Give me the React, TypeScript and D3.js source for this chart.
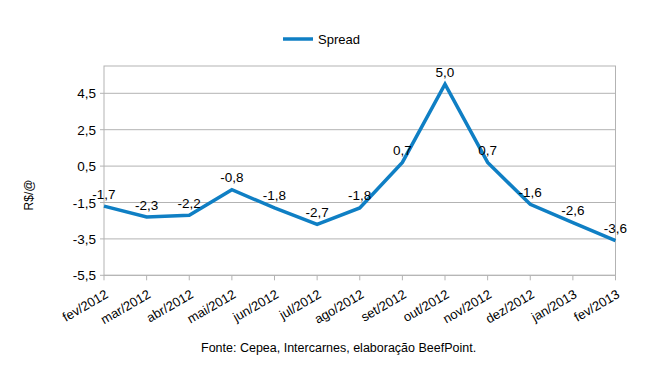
import React from "react";
import * as d3 from "d3";

const categories = ["fev/2012","mar/2012","abr/2012","mai/2012","jun/2012","jul/2012","ago/2012","set/2012","out/2012","nov/2012","dez/2012","jan/2013","fev/2013"];
const spread = [-1.7,-2.3,-2.2,-0.8,-1.8,-2.7,-1.8,0.7,5.0,0.7,-1.6,-2.6,-3.6];
const yTicks = [-5.5,-3.5,-1.5,0.5,2.5,4.5];
const seriesName = "Spread";
const yTitle = "R$/@";
const footer = "Fonte: Cepea, Intercarnes, elaboração BeefPoint.";

const W = 646, H = 377;
const left = 104, right = 615.5, top = 66, bottom = 275.3;
const font = "'Liberation Sans', Arial, sans-serif";
const blue = "#0f7fc4";
const grid = "#b3b3b3";
const fmt = (v: number) => v.toFixed(1).replace(".", ",");

export default function App() {
  const x = d3.scalePoint<string>().domain(categories).range([left, right]);
  const y = d3.scaleLinear().domain([-5.5, 6.0]).range([bottom, top]);
  const line = d3.line<number>().x((_, i) => x(categories[i])!).y(d => y(d));
  return (
    <svg width={W} height={H} style={{ position: "absolute", left: 0, top: 0, background: "#fff" }} fontFamily={font}>
      <rect width={W} height={H} fill="#fff" />
      <line x1={283} x2={313} y1={39} y2={39} stroke={blue} strokeWidth={3.5} />
      <text x={318} y={44} fontSize={13} fill="#000">{seriesName}</text>
      {yTicks.map(t => (
        <g key={t}>
          <line x1={left - 4} x2={right} y1={y(t)} y2={y(t)} stroke={grid} strokeWidth={1} />
          <text x={96} y={y(t) + 5} fontSize={13.5} textAnchor="end" fill="#000">{fmt(t)}</text>
        </g>
      ))}
      <rect x={left} y={top} width={right - left} height={bottom - top} fill="none" stroke={grid} strokeWidth={1} />
      {categories.map(c => (
        <g key={c}>
          <line x1={x(c)!} x2={x(c)!} y1={bottom} y2={bottom + 5} stroke={grid} strokeWidth={1} />
          <text transform={`translate(${x(c)! + 5},${297}) rotate(-30)`} fontSize={13} textAnchor="end" fill="#000">{c}</text>
        </g>
      ))}
      <path d={line(spread)!} fill="none" stroke={blue} strokeWidth={3.5} strokeLinejoin="miter" />
      {spread.map((v, i) => (
        <text key={i} x={x(categories[i])!} y={y(v) - 7.5} fontSize={13.5} textAnchor="middle" fill="#000">{fmt(v)}</text>
      ))}
      <text transform={`translate(33,195) rotate(-90)`} fontSize={12} textAnchor="middle" fill="#000">{yTitle}</text>
      <text x={201} y={352} fontSize={12.5} fill="#000">{footer}</text>
    </svg>
  );
}
